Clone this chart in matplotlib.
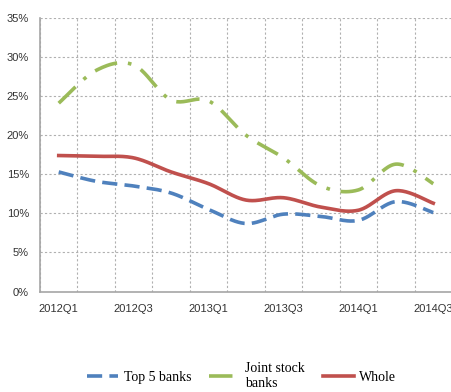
import numpy as np
import matplotlib
matplotlib.use("Agg")
import matplotlib.pyplot as plt
from matplotlib.ticker import PercentFormatter

quarters = ["2012Q1", "2012Q2", "2012Q3", "2012Q4", "2013Q1", "2013Q2",
            "2013Q3", "2013Q4", "2014Q1", "2014Q2", "2014Q3"]
top5 = [15.3, 14.1, 13.5, 12.6, 10.5, 8.7, 9.9, 9.6, 9.1, 11.5, 10.1]
joint_stock = [24.1, 28.3, 29.0, 24.5, 24.4, 20.0, 17.1, 13.5, 13.0, 16.3, 13.8]
whole = [17.4, 17.3, 17.1, 15.3, 13.8, 11.7, 12.0, 10.8, 10.4, 12.9, 11.3]


def smooth(x, y, n=24):
    # Catmull-Rom curve through the points, like Excel's "smoothed line"
    x = np.asarray(x, float)
    y = np.asarray(y, float)
    px = np.concatenate([[x[0]], x, [x[-1]]])
    py = np.concatenate([[y[0]], y, [y[-1]]])
    t = np.linspace(0, 1, n, endpoint=False)
    xs, ys = [], []
    for i in range(1, len(px) - 2):
        for arr, out in ((px, xs), (py, ys)):
            p0, p1, p2, p3 = arr[i - 1], arr[i], arr[i + 1], arr[i + 2]
            out.extend(0.5 * (2 * p1 + (-p0 + p2) * t
                              + (2 * p0 - 5 * p1 + 4 * p2 - p3) * t ** 2
                              + (-p0 + 3 * p1 - 3 * p2 + p3) * t ** 3))
    xs.append(x[-1])
    ys.append(y[-1])
    return np.array(xs), np.array(ys)


def main():
    fig = plt.figure(figsize=(4.52, 3.92), dpi=100)
    ax = fig.add_axes([40 / 452, 1 - 291.5 / 392, 412 / 452, (291.5 - 18) / 392])

    xpos = np.arange(len(quarters))
    xs, ys = smooth(xpos, top5)
    ax.plot(xs, ys, color="#4F81BD", lw=2.6, dashes=(4.2, 2.0), label="Top 5 banks")
    xs, ys = smooth(xpos, joint_stock)
    ax.plot(xs, ys, color="#9BBB59", lw=2.6, dashes=(6.5, 3.0, 1.0, 3.0),
            label="Joint stock\nbanks")
    xs, ys = smooth(xpos, whole)
    ax.plot(xs, ys, color="#C0504D", lw=2.6, label="Whole")

    ax.set_xlim(-0.5, len(quarters) - 0.5)
    ax.set_ylim(0, 35)
    ax.set_yticks(np.arange(0, 36, 5))
    ax.yaxis.set_major_formatter(PercentFormatter(xmax=100, decimals=0))
    ax.set_xticks(xpos[::2])
    ax.set_xticklabels(quarters[::2])
    ax.set_xticks(np.arange(-0.5, len(quarters), 1), minor=True)

    ax.grid(axis="y", which="major", color="#b0b0b0", lw=0.8, ls=(0, (2, 2)))
    ax.grid(axis="x", which="minor", color="#b0b0b0", lw=0.8, ls=(0, (2, 2)))
    ax.set_axisbelow(True)
    for side in ("top", "right"):
        ax.spines[side].set_visible(False)
    for side in ("left", "bottom"):
        ax.spines[side].set_color("#a6a6a6")
        ax.spines[side].set_linewidth(1.2)
    ax.tick_params(which="both", length=0)
    ax.tick_params(axis="y", pad=8, labelsize=8, labelcolor="#333333")
    ax.tick_params(axis="x", pad=9, labelsize=8, labelcolor="#333333")
    for lbl in ax.get_xticklabels() + ax.get_yticklabels():
        lbl.set_family("Liberation Sans")

    fig.legend(loc="center", bbox_to_anchor=(0.535, 0.04), ncol=3, frameon=False,
               prop={"family": "Liberation Serif", "size": 10},
               handlelength=2.2, handletextpad=0.4, columnspacing=1.3,
               labelspacing=0.1)

    fig.savefig("out.png", dpi=100)


if __name__ == "__main__":
    main()
